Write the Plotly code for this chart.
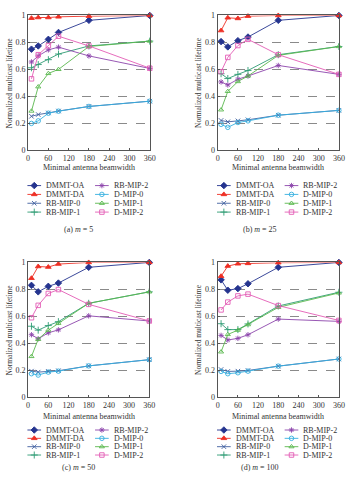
import plotly.graph_objects as go

W, H = 353, 488

# ---------------- data ----------------
beamwidth = [10, 30, 60, 90, 180, 360]
x_ticks = [0, 60, 120, 180, 240, 300, 360]
y_ticks = [0, 0.2, 0.4, 0.6, 0.8, 1]
y_tick_labels = ["0", "0.2", "0.4", "0.6", "0.8", "1"]
series_names = ["DMMT-OA", "DMMT-DA", "RB-MIP-0", "RB-MIP-1",
                "RB-MIP-2", "D-MIP-0", "D-MIP-1", "D-MIP-2"]
captions = ["(a) <i>m</i> = 5", "(b) <i>m</i> = 25",
            "(c) <i>m</i> = 50", "(d) <i>m</i> = 100"]
x_title = "Minimal antenna beamwidth"
y_title = "Normalized multicast lifetime"

m5 = {
    "DMMT-OA":  [0.75, 0.774, 0.823, 0.874, 0.964, 1.0],
    "DMMT-DA":  [0.98, 0.985, 0.985, 0.99, 0.995, 1.0],
    "RB-MIP-0": [0.252, 0.265, 0.277, 0.291, 0.325, 0.364],
    "RB-MIP-1": [0.612, 0.636, 0.672, 0.714, 0.774, 0.81],
    "RB-MIP-2": [0.655, 0.70, 0.745, 0.765, 0.70, 0.607],
    "D-MIP-0":  [0.199, 0.218, 0.275, 0.29, 0.325, 0.364],
    "D-MIP-1":  [0.291, 0.471, 0.57, 0.60, 0.77, 0.81],
    "D-MIP-2":  [0.53, 0.709, 0.776, 0.846, 0.774, 0.609],
}
m25 = {
    "DMMT-OA":  [0.806, 0.767, 0.813, 0.84, 0.964, 1.0],
    "DMMT-DA":  [0.888, 0.983, 0.978, 0.995, 1.0, 1.0],
    "RB-MIP-0": [0.221, 0.211, 0.218, 0.226, 0.26, 0.296],
    "RB-MIP-1": [0.568, 0.532, 0.563, 0.592, 0.709, 0.77],
    "RB-MIP-2": [0.507, 0.485, 0.527, 0.551, 0.629, 0.563],
    "D-MIP-0":  [0.192, 0.17, 0.206, 0.218, 0.26, 0.296],
    "D-MIP-1":  [0.30, 0.437, 0.51, 0.551, 0.704, 0.77],
    "D-MIP-2":  [0.583, 0.689, 0.777, 0.823, 0.709, 0.563],
}
m50 = {
    "DMMT-OA":  [0.83, 0.782, 0.823, 0.847, 0.964, 1.0],
    "DMMT-DA":  [0.883, 0.97, 0.966, 0.988, 1.0, 1.0],
    "RB-MIP-0": [0.194, 0.187, 0.192, 0.197, 0.233, 0.279],
    "RB-MIP-1": [0.527, 0.498, 0.532, 0.561, 0.697, 0.782],
    "RB-MIP-2": [0.464, 0.434, 0.478, 0.50, 0.604, 0.566],
    "D-MIP-0":  [0.175, 0.165, 0.187, 0.194, 0.233, 0.279],
    "D-MIP-1":  [0.303, 0.43, 0.498, 0.549, 0.697, 0.782],
    "D-MIP-2":  [0.59, 0.682, 0.77, 0.799, 0.689, 0.566],
}
m100 = {
    "DMMT-OA":  [0.871, 0.794, 0.806, 0.842, 0.964, 1.0],
    "DMMT-DA":  [0.898, 0.973, 0.99, 0.993, 0.998, 1.0],
    "RB-MIP-0": [0.206, 0.192, 0.194, 0.199, 0.231, 0.284],
    "RB-MIP-1": [0.546, 0.502, 0.502, 0.544, 0.677, 0.779],
    "RB-MIP-2": [0.459, 0.425, 0.437, 0.464, 0.58, 0.563],
    "D-MIP-0":  [0.192, 0.175, 0.182, 0.194, 0.231, 0.284],
    "D-MIP-1":  [0.337, 0.466, 0.498, 0.539, 0.667, 0.774],
    "D-MIP-2":  [0.648, 0.706, 0.752, 0.765, 0.68, 0.57],
}
panel_data = [m5, m25, m50, m100]

# ---------------- styles ----------------
styles = {
    "DMMT-OA":  dict(color="#25348f", symbol="diamond", size=5),
    "DMMT-DA":  dict(color="#ee2f24", symbol="triangle-up", size=5),
    "RB-MIP-0": dict(color="#3f5f9f", symbol="x-thin-open", size=4.5),
    "RB-MIP-1": dict(color="#2f9c74", symbol="cross-thin-open", size=5),
    "RB-MIP-2": dict(color="#8c45ac", symbol="asterisk-open", size=4.5),
    "D-MIP-0":  dict(color="#35b0e0", symbol="circle-open", size=4.5),
    "D-MIP-1":  dict(color="#5ab84e", symbol="triangle-up-open", size=4.5),
    "D-MIP-2":  dict(color="#e35cb5", symbol="square-open", size=4.5),
}

FONT = "Liberation Serif"
TXT = "#333333"

# panel geometry in pixels: plot area left,right,top,bottom and text rows
panels = [
    dict(l=26.7, r=151.2, t=11.7, b=149.0, cx=78, title_y=167, leg_y=[185, 194, 203, 212], cap_y=230),
    dict(l=220.7, r=344.7, t=11.7, b=149.0, cx=264, title_y=167, leg_y=[185, 194, 203, 212], cap_y=230),
    dict(l=26.7, r=150.7, t=263.3, b=400.7, cx=78, title_y=420, leg_y=[434, 442.5, 451, 459.5], cap_y=472),
    dict(l=220.7, r=344.7, t=263.3, b=400.7, cx=264, title_y=420, leg_y=[434, 442.5, 451, 459.5], cap_y=472),
]

fig = go.Figure()
layout = dict(
    width=W, height=H, margin=dict(l=0, r=0, t=0, b=0),
    paper_bgcolor="white", plot_bgcolor="rgba(0,0,0,0)",
    showlegend=False, font=dict(family=FONT, size=8, color=TXT),
)
annotations = []

for k, (p, data) in enumerate(zip(panels, panel_data)):
    n = k + 1
    xa = "xaxis" if n == 1 else f"xaxis{n}"
    ya = "yaxis" if n == 1 else f"yaxis{n}"
    xr = "x" if n == 1 else f"x{n}"
    yr = "y" if n == 1 else f"y{n}"
    layout[xa] = dict(
        domain=[p["l"] / W, p["r"] / W], anchor=yr, range=[0, 360],
        tickvals=x_ticks, ticktext=[str(v) for v in x_ticks],
        showline=True, linecolor="#555555", linewidth=1, mirror=True,
        ticks="inside", ticklen=2, tickcolor="#555555", showgrid=False,
        zeroline=False, tickfont=dict(family=FONT, size=8, color=TXT),
        fixedrange=True,
    )
    layout[ya] = dict(
        domain=[1 - p["b"] / H, 1 - p["t"] / H], anchor=xr, range=[0, 1],
        tickvals=y_ticks, ticktext=y_tick_labels,
        showline=True, linecolor="#555555", linewidth=1, mirror=True,
        ticks="inside", ticklen=2, tickcolor="#555555",
        showgrid=True, gridcolor="#8a8a8a", griddash="dash", gridwidth=0.8,
        zeroline=False, tickfont=dict(family=FONT, size=8, color=TXT),
        fixedrange=True,
    )
    for name in series_names:
        st = styles[name]
        fig.add_trace(go.Scatter(
            x=beamwidth, y=data[name], mode="lines+markers", name=name,
            xaxis=xr, yaxis=yr, cliponaxis=False,
            line=dict(color=st["color"], width=0.9),
            marker=dict(symbol=st["symbol"], size=st["size"], color=st["color"],
                        line=dict(color=st["color"], width=0.9)),
        ))
    # axis titles and caption
    annotations.append(dict(
        x=(p["l"] + p["r"]) / 2, y=p["title_y"], xref="x9", yref="y9",
        text=x_title, showarrow=False, xanchor="center", yanchor="middle",
        font=dict(family=FONT, size=8, color=TXT)))
    annotations.append(dict(
        x=p["l"] - 19, y=(p["t"] + p["b"]) / 2, xref="x9", yref="y9",
        text=y_title, showarrow=False, textangle=-90, xanchor="center", yanchor="middle",
        font=dict(family=FONT, size=7.5, color=TXT)))
    annotations.append(dict(
        x=p["cx"], y=p["cap_y"], xref="x9", yref="y9",
        text=captions[k], showarrow=False, xanchor="center", yanchor="middle",
        font=dict(family=FONT, size=8, color=TXT)))
    # legend (two columns x four rows)
    for i, name in enumerate(series_names):
        st = styles[name]
        col, row = divmod(i, 4)
        lx = p["l"] + (-0.7 if col == 0 else 68.5)
        ly = p["leg_y"][row]
        fig.add_trace(go.Scatter(
            x=[lx, lx + 14], y=[ly, ly], mode="lines", xaxis="x9", yaxis="y9",
            line=dict(color=st["color"], width=0.9), hoverinfo="skip"))
        fig.add_trace(go.Scatter(
            x=[lx + 7], y=[ly], mode="markers", xaxis="x9", yaxis="y9",
            marker=dict(symbol=st["symbol"], size=st["size"], color=st["color"],
                        line=dict(color=st["color"], width=0.9)), hoverinfo="skip"))
        annotations.append(dict(
            x=lx + 17, y=ly, xref="x9", yref="y9", text=name, showarrow=False,
            xanchor="left", yanchor="middle",
            font=dict(family=FONT, size=8, color=TXT)))

layout["xaxis9"] = dict(domain=[0, 1], range=[0, W], visible=False, anchor="y9", fixedrange=True)
layout["yaxis9"] = dict(domain=[0, 1], range=[H, 0], visible=False, anchor="x9", fixedrange=True)
layout["annotations"] = annotations
fig.update_layout(**layout)

fig.write_html("out.html")
